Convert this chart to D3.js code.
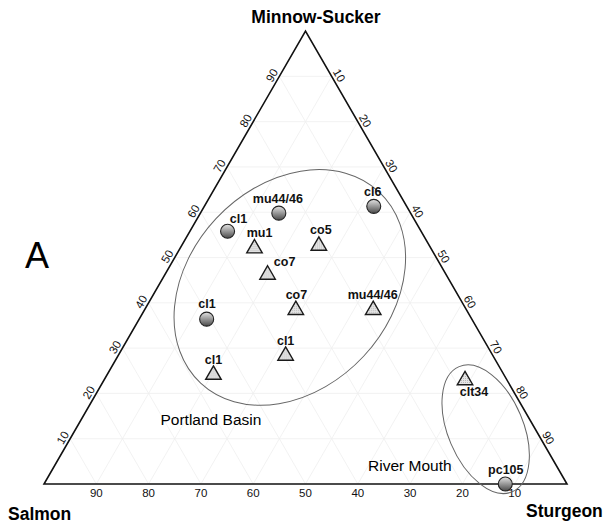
<!DOCTYPE html>
<html>
<head>
<meta charset="utf-8">
<title>Ternary plot</title>
<style>
  body { margin: 0; background: #fff; }
  svg { display: block; font-family: "Liberation Sans", Arial, sans-serif; }
</style>
</head>
<body>
<div id="chart"></div>
<script src="https://cdn.jsdelivr.net/npm/d3@7"></script>
<script>
// sample compositions, percent (minnow-sucker + sturgeon + salmon = 100)
var names    = ["cl6", "mu44/46", "cl1", "mu1", "co5", "co7", "co7", "mu44/46", "cl1", "cl1", "cl1", "clt34", "pc105"];
var markers  = ["circle", "circle", "circle", "triangle", "triangle", "triangle", "triangle", "triangle", "circle", "triangle", "triangle", "triangle", "circle"];
var minnow   = [61.3, 59.8, 55.8, 52.5, 53.1, 46.7, 38.9, 38.9, 36.4, 28.8, 24.6, 23.4, 0.0];
var sturgeon = [32.4, 15.0,  7.2, 14.0, 26.0, 19.4, 28.7, 43.5, 12.9, 31.8, 20.1, 68.8, 88.2];
var salmon   = [ 6.3, 25.2, 37.0, 33.5, 20.9, 33.9, 32.4, 17.6, 50.7, 39.4, 55.3,  7.8, 11.8];

// where each sample label sits relative to its marker (px)
var labelDx = [-1, -1, 11, 5, 2, 17, 0.6, -0.5, 0.3, 0, 0, 9, 0.5];
var labelDy = [-10.5, -9.7, -8, -9.3, -9.3, -6.7, -9, -9, -11.3, -8.3, -8.4, 18.4, -10];

var ticks = [10, 20, 30, 40, 50, 60, 70, 80, 90];

// group outlines: centre composition, semi-axes in % of side, tilt
var groupNames    = ["Portland Basin", "River Mouth"];
var groupMinnow   = [43.4, 12.1];
var groupSturgeon = [25.3, 78.4];
var groupRx       = [25.0, 13.0];
var groupRy       = [19.3, 7.2];
var groupAngle    = [-47, 67];

var width = 605, height = 527;
var left = 44, right = 567, base = 484;
var side = right - left;
var tall = side * Math.sqrt(3) / 2;

var svg = d3.select("#chart").append("svg")
  .attr("width", width)
  .attr("height", height);

// x from sturgeon+minnow/2, y from minnow
var xScale = d3.scaleLinear().domain([0, 100]).range([left, right]);
var yScale = d3.scaleLinear().domain([0, 100]).range([base, base - tall]);

function px(m, st) { return [xScale(st + m / 2), yScale(m)]; }

var defs = svg.append("defs");
var grad = defs.append("linearGradient")
  .attr("id", "ball").attr("x1", 0).attr("y1", 0).attr("x2", 0).attr("y2", 1);
grad.append("stop").attr("offset", "0%").attr("stop-color", "#e4e4e4");
grad.append("stop").attr("offset", "100%").attr("stop-color", "#4a4a4a");

var pat = defs.append("pattern")
  .attr("id", "dots").attr("width", 2).attr("height", 2)
  .attr("patternUnits", "userSpaceOnUse");
pat.append("rect").attr("width", 2).attr("height", 2).attr("fill", "#e6e6e6");
pat.append("rect").attr("width", 1).attr("height", 1).attr("fill", "#b8b8b8");

// grid
var grid = svg.append("g").attr("stroke", "#efefef").attr("stroke-width", 0.8);
ticks.forEach(function(t) {
  var a = px(t, 0), b = px(t, 100 - t);          // constant minnow
  grid.append("line").attr("x1", a[0]).attr("y1", a[1]).attr("x2", b[0]).attr("y2", b[1]);
  a = px(0, t); b = px(100 - t, t);              // constant sturgeon
  grid.append("line").attr("x1", a[0]).attr("y1", a[1]).attr("x2", b[0]).attr("y2", b[1]);
  a = px(0, 100 - t); b = px(100 - t, 0);        // constant salmon
  grid.append("line").attr("x1", a[0]).attr("y1", a[1]).attr("x2", b[0]).attr("y2", b[1]);
});

// outline
var corners = [px(0, 0), px(0, 100), px(100, 0)];
svg.append("path")
  .attr("d", "M" + corners.join("L") + "Z")
  .attr("fill", "none")
  .attr("stroke", "#111")
  .attr("stroke-width", 1.6)
  .attr("stroke-linejoin", "miter");

// tick labels
var tl = svg.append("g").attr("font-size", "11.5px").attr("fill", "#111");
ticks.forEach(function(t) {
  var p = px(t, 0);
  tl.append("text")
    .attr("transform", "translate(" + (p[0] - 7.5) + "," + (p[1] - 1) + ") rotate(-60)")
    .attr("text-anchor", "middle").attr("dy", "0.35em").text(t);
  p = px(100 - t, t);
  tl.append("text")
    .attr("transform", "translate(" + (p[0] + 7.5) + "," + (p[1] - 1) + ") rotate(60)")
    .attr("text-anchor", "middle").attr("dy", "0.35em").text(t);
  p = px(0, 100 - t);
  tl.append("text")
    .attr("x", p[0]).attr("y", p[1] + 13)
    .attr("text-anchor", "middle").text(t);
});

// corner titles
svg.append("text").attr("x", 316).attr("y", 22.5).attr("text-anchor", "middle")
  .attr("font-size", "17.5px").attr("font-weight", "bold").text("Minnow-Sucker");
svg.append("text").attr("x", 8).attr("y", 520)
  .attr("font-size", "17.5px").attr("font-weight", "bold").text("Salmon");
svg.append("text").attr("x", 526).attr("y", 517)
  .attr("font-size", "17.5px").attr("font-weight", "bold").text("Sturgeon");
svg.append("text").attr("x", 25).attr("y", 268)
  .attr("font-size", "36px").text("A");

// group ellipses
groupNames.forEach(function(g, i) {
  var c = px(groupMinnow[i], groupSturgeon[i]);
  svg.append("ellipse")
    .attr("transform", "translate(" + c[0] + "," + c[1] + ") rotate(" + groupAngle[i] + ")")
    .attr("rx", groupRx[i] / 100 * side)
    .attr("ry", groupRy[i] / 100 * side)
    .attr("fill", "none")
    .attr("stroke", "#666")
    .attr("stroke-width", 1);
});
svg.append("text").attr("x", 160.5).attr("y", 425).attr("font-size", "15.5px").text(groupNames[0]);
svg.append("text").attr("x", 368).attr("y", 471).attr("font-size", "15.5px").text(groupNames[1]);

// samples
var tri = 15.5, triH = tri * Math.sqrt(3) / 2;
var pts = svg.selectAll("g.pt").data(names).enter().append("g")
  .attr("class", "pt")
  .attr("transform", function(d, i) {
    var p = px(minnow[i], sturgeon[i]);
    return "translate(" + p[0] + "," + p[1] + ")";
  });

pts.filter(function(d, i) { return markers[i] === "circle"; })
  .append("circle")
  .attr("r", 7)
  .attr("fill", "url(#ball)")
  .attr("stroke", "#222")
  .attr("stroke-width", 1.1);

pts.filter(function(d, i) { return markers[i] === "triangle"; })
  .append("path")
  .attr("d", "M0," + (-triH / 2) + "L" + (tri / 2) + "," + (triH / 2) + "L" + (-tri / 2) + "," + (triH / 2) + "Z")
  .attr("fill", "url(#dots)")
  .attr("stroke", "#1a1a1a")
  .attr("stroke-width", 1.4)
  .attr("stroke-linejoin", "miter");

pts.append("text")
  .attr("x", function(d, i) { return labelDx[i]; })
  .attr("y", function(d, i) { return labelDy[i]; })
  .attr("text-anchor", "middle")
  .attr("font-size", "12.5px")
  .attr("font-weight", "bold")
  .attr("fill", "#111")
  .text(function(d) { return d; });
</script>
</body>
</html>
